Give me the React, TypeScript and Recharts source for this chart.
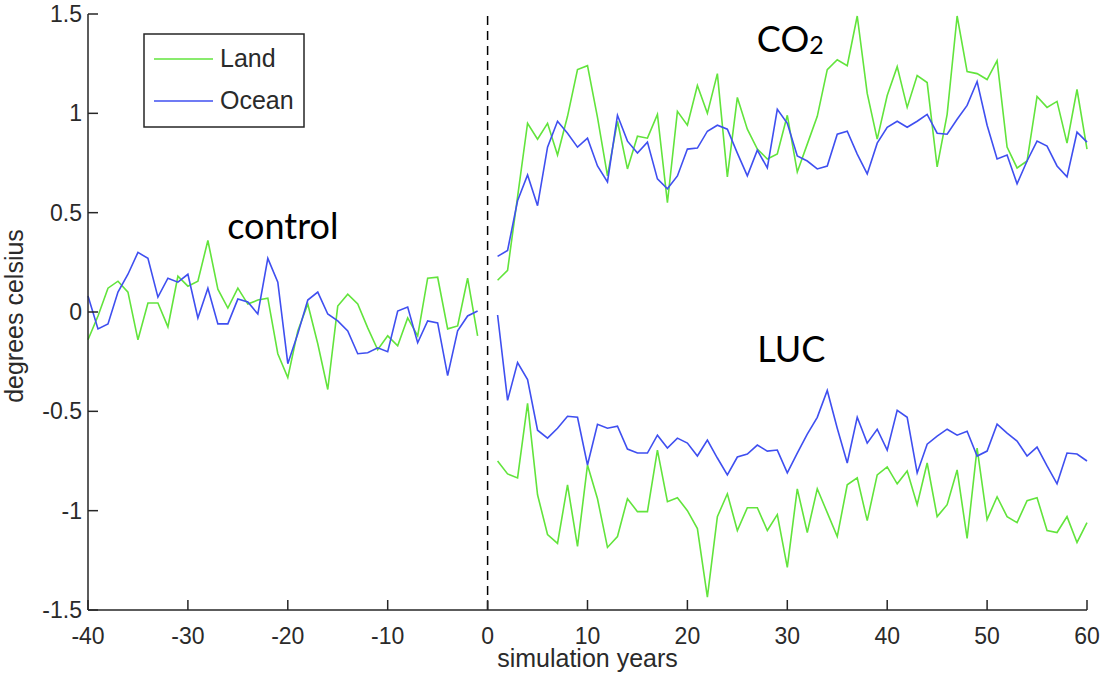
import { LineChart, Line, XAxis, YAxis, ReferenceLine, ReferenceDot, Legend } from "recharts";

// control run, years -40..-1
const controlLand = [
  -0.14, -0.02, 0.12, 0.155, 0.1, -0.14, 0.045, 0.045, -0.075, 0.18,
  0.13, 0.155, 0.36, 0.115, 0.02, 0.12, 0.04, 0.06, 0.07, -0.21,
  -0.33, -0.095, 0.04, -0.16, -0.39, 0.03, 0.09, 0.04, -0.08, -0.19,
  -0.12, -0.17, -0.03, -0.12, 0.17, 0.175, -0.085, -0.07, 0.17, -0.12,
];
const controlOcean = [
  0.08, -0.085, -0.06, 0.1, 0.19, 0.3, 0.27, 0.075, 0.17, 0.15,
  0.19, -0.03, 0.12, -0.06, -0.06, 0.065, 0.05, -0.01, 0.27, 0.15,
  -0.26, -0.11, 0.06, 0.1, -0.01, -0.045, -0.095, -0.21, -0.205, -0.18,
  -0.2, 0.005, 0.025, -0.155, -0.045, -0.055, -0.32, -0.095, -0.02, 0.005,
];

// forced runs, years 1..60
const co2Land = [
  0.16, 0.21, 0.58, 0.95, 0.87, 0.95, 0.79, 0.985, 1.22, 1.24,
  0.98, 0.685, 0.96, 0.72, 0.885, 0.875, 0.995, 0.55, 1.01, 0.94,
  1.14, 1.0, 1.2, 0.68, 1.08, 0.92, 0.82, 0.77, 0.795, 0.99,
  0.705, 0.845, 0.985, 1.22, 1.27, 1.24, 1.49, 1.1, 0.87, 1.09,
  1.235, 1.03, 1.19, 1.155, 0.73, 0.995, 1.49, 1.21, 1.2, 1.17,
  1.265, 0.83, 0.725, 0.76, 1.085, 1.03, 1.06, 0.85, 1.12, 0.82,
];
const co2Ocean = [
  0.28, 0.31, 0.56, 0.69, 0.535, 0.83, 0.96, 0.9, 0.83, 0.875,
  0.735, 0.655, 0.99, 0.86, 0.8, 0.855, 0.67, 0.62, 0.685, 0.82,
  0.825, 0.91, 0.94, 0.92, 0.8, 0.685, 0.815, 0.725, 1.02, 0.95,
  0.785, 0.76, 0.72, 0.735, 0.895, 0.91, 0.795, 0.695, 0.85, 0.93,
  0.96, 0.93, 0.96, 0.995, 0.9, 0.895, 0.97, 1.04, 1.16, 0.94,
  0.77, 0.79, 0.645, 0.76, 0.86, 0.835, 0.735, 0.68, 0.905, 0.855,
];
const lucLand = [
  -0.75, -0.815, -0.835, -0.46, -0.92, -1.12, -1.165, -0.87, -1.18, -0.77,
  -0.94, -1.185, -1.13, -0.94, -1.005, -1.005, -0.695, -0.955, -0.935, -1.0,
  -1.09, -1.435, -1.03, -0.915, -1.1, -0.985, -0.985, -1.1, -1.02, -1.285,
  -0.89, -1.11, -0.89, -1.01, -1.13, -0.87, -0.835, -1.05, -0.82, -0.78,
  -0.865, -0.8, -0.97, -0.76, -1.03, -0.97, -0.795, -1.14, -0.685, -1.045,
  -0.93, -1.03, -1.06, -0.95, -0.935, -1.1, -1.11, -1.03, -1.16, -1.06,
];
const lucOcean = [
  -0.015, -0.445, -0.255, -0.34, -0.595, -0.635, -0.585, -0.525, -0.53, -0.77,
  -0.565, -0.585, -0.575, -0.69, -0.71, -0.71, -0.62, -0.685, -0.635, -0.66,
  -0.725, -0.645, -0.735, -0.82, -0.73, -0.715, -0.67, -0.7, -0.695, -0.81,
  -0.71, -0.615, -0.53, -0.395, -0.585, -0.76, -0.53, -0.66, -0.59, -0.695,
  -0.495, -0.53, -0.81, -0.665, -0.625, -0.59, -0.62, -0.6, -0.725, -0.7,
  -0.565, -0.61, -0.65, -0.725, -0.68, -0.775, -0.865, -0.71, -0.715, -0.75,
];

const xTicks = [-40, -30, -20, -10, 0, 10, 20, 30, 40, 50, 60];
const yTicks = [-1.5, -1, -0.5, 0, 0.5, 1, 1.5];

const GREEN = "#62e43c";
const BLUE = "#3f4ff0";
const AXIS = "#262626";
const TEXT = "#2a2a2a";
const TICK_FONT = "'Liberation Sans', Arial, sans-serif";
const NOTE_FONT = "Lato, 'Open Sans', sans-serif";

const data: Record<string, number | undefined>[] = [];
for (let year = -40; year <= 60; year++) {
  const c = year + 40;
  const f = year - 1;
  data.push({
    year,
    controlLand: year < 0 ? controlLand[c] : undefined,
    controlOcean: year < 0 ? controlOcean[c] : undefined,
    co2Land: year > 0 ? co2Land[f] : undefined,
    co2Ocean: year > 0 ? co2Ocean[f] : undefined,
    lucLand: year > 0 ? lucLand[f] : undefined,
    lucOcean: year > 0 ? lucOcean[f] : undefined,
  });
}

function XTick({ x, y, payload }: any) {
  return (
    <g>
      <line x1={x} x2={x} y1={y} y2={y - 10} stroke={AXIS} strokeWidth={1.5} />
      <text x={x} y={y + 34} textAnchor="middle" fontSize={23} fill={TEXT} fontFamily={TICK_FONT}>
        {payload.value}
      </text>
    </g>
  );
}

function YTick({ x, y, payload }: any) {
  return (
    <g>
      <line x1={x} x2={x + 10} y1={y} y2={y} stroke={AXIS} strokeWidth={1.5} />
      <text x={x - 6} y={y + 8} textAnchor="end" fontSize={23} fill={TEXT} fontFamily={TICK_FONT}>
        {payload.value}
      </text>
    </g>
  );
}

function YLabel({ viewBox }: any) {
  const cx = viewBox.x + 14;
  const cy = viewBox.y + viewBox.height / 2 + 4;
  return (
    <text
      x={cx}
      y={cy}
      transform={`rotate(-90 ${cx} ${cy})`}
      textAnchor="middle"
      dominantBaseline="central"
      fontSize={25}
      fill={TEXT}
      fontFamily={TICK_FONT}
    >
      degrees celsius
    </text>
  );
}

function XLabel({ viewBox }: any) {
  return (
    <text
      x={viewBox.x + viewBox.width / 2}
      y={viewBox.y + 57}
      textAnchor="middle"
      fontSize={25}
      fill={TEXT}
      fontFamily={TICK_FONT}
    >
      simulation years
    </text>
  );
}

function note(text: string, sub?: string) {
  return (p: any) => (
    <text x={p.cx} y={p.cy} textAnchor="middle" fontSize={36} fill="#000" fontFamily={NOTE_FONT}>
      {text}
      {sub && (
        <tspan fontSize={25} dy={2}>
          {sub}
        </tspan>
      )}
    </text>
  );
}

function LegendBox({ payload }: any) {
  const seen = new Set<string>();
  const items = (payload || []).filter((p: any) => {
    if (seen.has(p.value)) return false;
    seen.add(p.value);
    return true;
  });
  return (
    <svg width={162} height={95} style={{ display: "block" }}>
      <rect x={1} y={1} width={160} height={93} fill="#fff" stroke={AXIS} strokeWidth={1.5} />
      {items.map((it: any, i: number) => (
        <g key={it.value}>
          <line x1={11} x2={70} y1={26 + i * 42} y2={26 + i * 42} stroke={it.color} strokeWidth={1.5} />
          <text x={77} y={34 + i * 42} fontSize={25} fill={TEXT} fontFamily={TICK_FONT}>
            {it.value}
          </text>
        </g>
      ))}
    </svg>
  );
}

export default function App() {
  return (
    <div style={{ position: "fixed", left: 0, top: 0, width: 1100, height: 673, background: "#fff" }}>
      <LineChart width={1100} height={673} data={data} margin={{ top: 14, right: 13, left: 0, bottom: 0 }}>
        <XAxis
          dataKey="year"
          type="number"
          domain={[-40, 60]}
          ticks={xTicks}
          height={63}
          stroke={AXIS}
          strokeWidth={1.5}
          tickLine={false}
          tickSize={0}
          tickMargin={0}
          tick={<XTick />}
          interval={0}
          label={<XLabel />}
        />
        <YAxis
          type="number"
          domain={[-1.5, 1.5]}
          ticks={yTicks}
          width={88}
          stroke={AXIS}
          strokeWidth={1.5}
          tickLine={false}
          tickSize={0}
          tickMargin={0}
          tick={<YTick />}
          interval={0}
          label={<YLabel />}
        />
        <ReferenceLine x={0} stroke="#000" strokeWidth={1.5} strokeDasharray="9 6" />
        <Line dataKey="controlLand" name="Land" stroke={GREEN} strokeWidth={1.6} dot={false} isAnimationActive={false} />
        <Line dataKey="controlOcean" name="Ocean" stroke={BLUE} strokeWidth={1.6} dot={false} isAnimationActive={false} />
        <Line dataKey="co2Land" stroke={GREEN} strokeWidth={1.6} dot={false} legendType="none" isAnimationActive={false} />
        <Line dataKey="co2Ocean" stroke={BLUE} strokeWidth={1.6} dot={false} legendType="none" isAnimationActive={false} />
        <Line dataKey="lucLand" stroke={GREEN} strokeWidth={1.6} dot={false} legendType="none" isAnimationActive={false} />
        <Line dataKey="lucOcean" stroke={BLUE} strokeWidth={1.6} dot={false} legendType="none" isAnimationActive={false} />
        <ReferenceDot x={-20.5} y={0.368} r={0} shape={note("control")} />
        <ReferenceDot x={30.3} y={1.31} r={0} shape={note("CO", "2")} />
        <ReferenceDot x={30.4} y={-0.25} r={0} shape={note("LUC")} />
        <Legend
          layout="vertical"
          align="center"
          verticalAlign="middle"
          content={<LegendBox />}
          wrapperStyle={{ left: 143, top: 33, width: 162, height: 95 }}
        />
      </LineChart>
    </div>
  );
}
